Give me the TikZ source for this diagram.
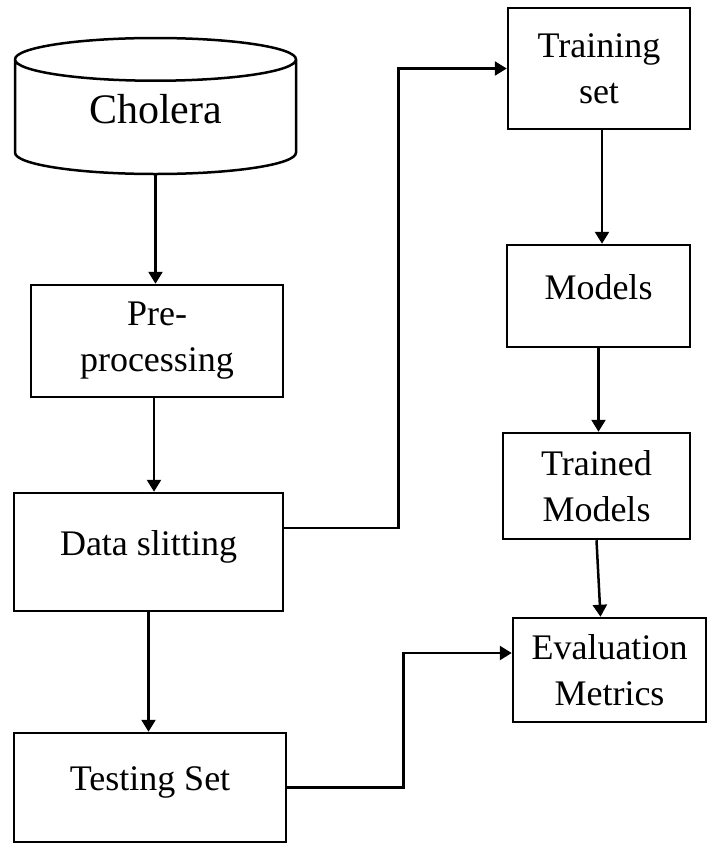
\documentclass[tikz,border=0pt]{standalone}
\usepackage{fontspec}
\setmainfont{Liberation Serif}
\usetikzlibrary{arrows.meta,shapes.geometric,positioning,calc}
\tikzset{
    flow/.style={-{Triangle[length=12pt, width=14pt]}, line width=2.5pt},
    block/.style={draw, rectangle, line width=2.5pt, align=center, font=\fontsize{36}{46}\selectfont},
    raised/.style={text depth=18pt},
    store/.style={draw, cylinder, shape border rotate=90, aspect=0.306, line width=2.5pt, font=\fontsize{42}{50}\selectfont}
}
\begin{document}
\begin{tikzpicture}[x=1pt, y=-1pt]
    \useasboundingbox (0,0) rectangle (709,844);
    % left column
    \node[store, text depth=21pt, minimum width=281pt, minimum height=136pt, anchor=shape center] (cholera) at (155.5,106) {Cholera};
    \node[block, minimum width=252pt, minimum height=112pt] (pre) at (157,341) {Pre-\\processing};
    \node[block, raised, minimum width=269pt, minimum height=118pt] (data) at (148.5,552) {Data slitting};
    \node[block, raised, minimum width=272pt, minimum height=109pt] (testing) at (150,787.5) {Testing Set};
    % right column
    \node[block, minimum width=182pt, minimum height=121pt] (training) at (599,68.5) {Training\\set};
    \node[block, raised, minimum width=183pt, minimum height=102pt] (models) at (598.5,296) {Models};
    \node[block, minimum width=187pt, minimum height=106pt] (trained) at (596.5,486) {Trained\\Models};
    \node[block, minimum width=193pt, minimum height=104pt] (eval) at (609.5,670) {Evaluation\\Metrics};

    \draw[flow] (cholera.bottom) -- (cholera.bottom |- pre.north);
    \draw[flow] ([xshift=-3pt]pre.south) -- ([xshift=-3pt]pre.south |- data.north);
    \draw[flow] (data.south) -- (data.south |- testing.north);
    \draw[flow] ([yshift=24pt]data.east) -- ++(114,0) |- (training);
    \draw[flow] ([xshift=3pt]training.south) -- ([xshift=3pt]training.south |- models.north);
    \draw[flow] (models.south) -- (models.south |- trained.north);
    \draw[flow] (trained.south) -- ([xshift=-9pt]eval.north);
    \draw[flow] (testing.east) -- ++(116,0) |- ([yshift=17pt]eval.west);
\end{tikzpicture}
\end{document}
